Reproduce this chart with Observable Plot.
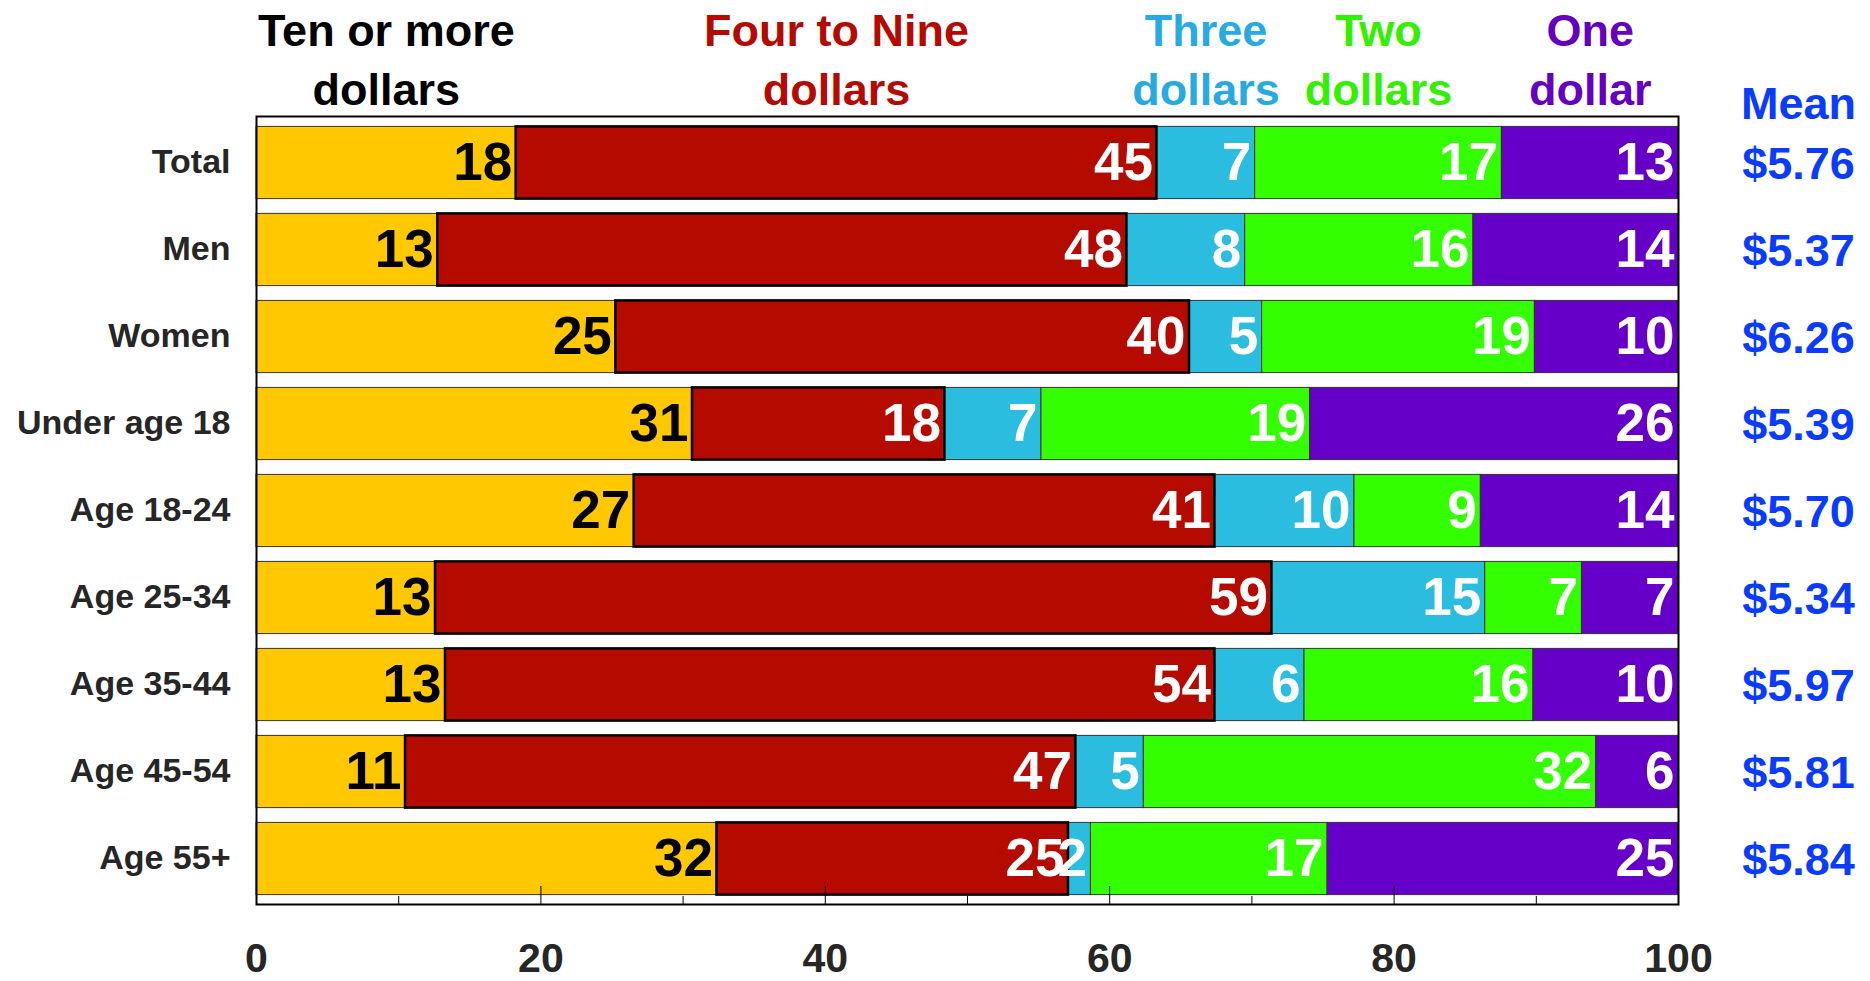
<!DOCTYPE html>
<html>
<head>
<meta charset="utf-8">
<script src="https://cdn.jsdelivr.net/npm/d3@7"></script>
<script src="https://cdn.jsdelivr.net/npm/@observablehq/plot@0.6"></script>
<style>
  html, body { margin: 0; padding: 0; background: #fff; }
  #chart svg { display: block; }
</style>
</head>
<body>
<div id="chart"></div>
<script>
// ---- data ----
const groups = ["Total", "Men", "Women", "Under age 18", "Age 18-24", "Age 25-34", "Age 35-44", "Age 45-54", "Age 55+"];
const categories = ["Ten or more dollars", "Four to Nine dollars", "Three dollars", "Two dollars", "One dollar"];
const headerLines = ["Ten or more\ndollars", "Four to Nine\ndollars", "Three\ndollars", "Two\ndollars", "One\ndollar"];

// segment shares (percent of row)
const tenOrMore  = [18.26, 12.75, 25.27, 30.66, 26.56, 12.59, 13.29, 10.48, 32.38];
const fourToNine = [45.06, 48.46, 40.34, 17.75, 40.84, 58.82, 54.11, 47.14, 24.72];
const three      = [6.91, 8.32, 5.11, 6.79, 9.81, 15.00, 6.30, 4.78, 1.58];
const two        = [17.35, 16.05, 19.18, 18.90, 8.89, 6.80, 16.10, 31.81, 16.64];
const one        = [12.42, 14.42, 10.10, 25.90, 13.90, 6.79, 10.20, 5.79, 24.68];

// printed labels
const lblTenOrMore  = [18, 13, 25, 31, 27, 13, 13, 11, 32];
const lblFourToNine = [45, 48, 40, 18, 41, 59, 54, 47, 25];
const lblThree      = [7, 8, 5, 7, 10, 15, 6, 5, 2];
const lblTwo        = [17, 16, 19, 19, 9, 7, 16, 32, 17];
const lblOne        = [13, 14, 10, 26, 14, 7, 10, 6, 25];

const means = [5.76, 5.37, 6.26, 5.39, 5.70, 5.34, 5.97, 5.81, 5.84];
const xTicks = [0, 20, 40, 60, 80, 100];
const xMinorTicks = [10, 30, 50, 70, 90];

// ---- styles ----
const barColors = ["#ffc800", "#b40a00", "#2abde0", "#33ff00", "#6600c8"];
const headerColors = ["#000000", "#b40a00", "#26aae1", "#33f000", "#6600c0"];
const meanColor = "#0a3cff";
const font = "'Liberation Sans', Arial, Helvetica, sans-serif";

// ---- build table ----
const series = [tenOrMore, fourToNine, three, two, one];
const seriesLabels = [lblTenOrMore, lblFourToNine, lblThree, lblTwo, lblOne];
const rows = [];
groups.forEach((g, i) => {
  let acc = 0;
  categories.forEach((c, j) => {
    const v = series[j][i];
    rows.push({group: g, cat: c, idx: j, value: v, x1: acc, x2: acc + v, label: String(seriesLabels[j][i])});
    acc += v;
  });
});
const headers = categories.map((c, j) => {
  const r = rows.find(d => d.group === groups[0] && d.cat === c);
  return {cat: c, idx: j, text: headerLines[j], x: (r.x1 + r.x2) / 2};
});
const meanRows = groups.map((g, i) => ({group: g, text: "$" + means[i].toFixed(2)}));

const W = 1870, H = 981, mL = 256, mR = 192, mT = 116, mB = 77;
const frameH = H - mT - mB;
const inset = 7.4;

const chart = Plot.plot({
  width: W, height: H,
  marginLeft: mL, marginRight: mR, marginTop: mT, marginBottom: mB,
  style: {fontFamily: font, background: "#fff", color: "#262626", overflow: "visible"},
  x: {domain: [0, 100], axis: null},
  y: {domain: groups, padding: 0, axis: null},
  color: {domain: categories, range: barColors},
  marks: [
    Plot.barX(rows, {x1: "x1", x2: "x2", y: "group", fill: "cat", stroke: "#333", strokeWidth: 1, insetTop: inset, insetBottom: inset}),
    Plot.barX(rows.filter(d => d.idx === 1), {x1: "x1", x2: "x2", y: "group", fill: "cat", stroke: "#000", strokeWidth: 2.5, insetTop: inset, insetBottom: inset}),
    Plot.ruleX(xTicks, {stroke: "#000", strokeWidth: 1, insetTop: frameH - 18}),
    Plot.ruleX(xMinorTicks, {stroke: "#000", strokeWidth: 1, insetTop: frameH - 8}),
    Plot.text(rows.filter(d => d.idx === 0), {x: "x2", y: "group", text: "label", textAnchor: "end", dx: -4, dy: 0, fill: "#000", fontSize: 53, fontWeight: "bold"}),
    Plot.text(rows.filter(d => d.idx !== 0), {x: "x2", y: "group", text: "label", textAnchor: "end", dx: -4, dy: 0, fill: "#fff", fontSize: 53, fontWeight: "bold"}),
    Plot.frame({stroke: "#000", strokeWidth: 2}),
    Plot.axisY({tickSize: 0, tickPadding: 26, fontSize: 34, fontWeight: "bold", label: null, dy: -1}),
    Plot.axisX({ticks: xTicks, tickSize: 0, tickPadding: 38, fontSize: 41, fontWeight: "bold", label: null}),
    ...headers.map(h => Plot.text([h], {x: "x", text: "text", frameAnchor: "top", lineAnchor: "bottom", dy: -12, lineHeight: 1.31, fontSize: 45, fontWeight: "bold", fill: headerColors[h.idx]})),
    Plot.text(["Mean"], {frameAnchor: "top-right", dx: 120, dy: 2, lineAnchor: "bottom", textAnchor: "middle", fontSize: 45, fontWeight: "bold", fill: meanColor}),
    Plot.text(meanRows, {y: "group", text: "text", frameAnchor: "right", dx: 120, dy: 2, textAnchor: "middle", fontSize: 45, fontWeight: "bold", fill: meanColor})
  ]
});
document.getElementById("chart").appendChild(chart);
</script>
</body>
</html>
